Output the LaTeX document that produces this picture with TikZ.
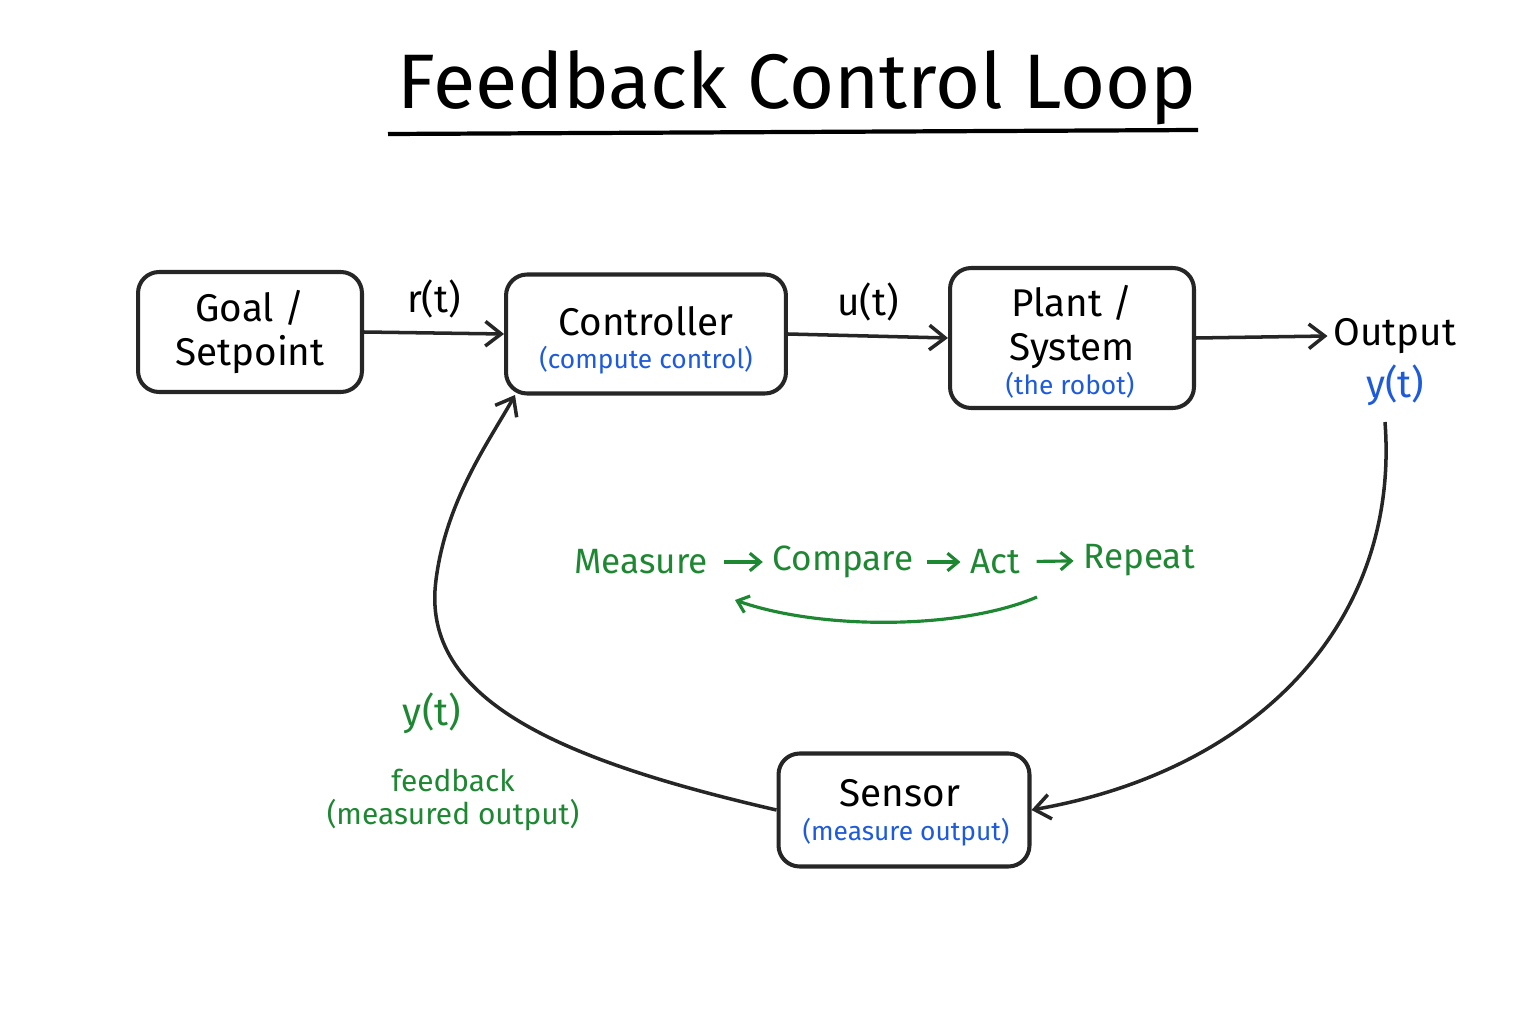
\documentclass[tikz,border=0pt]{standalone}
\usepackage{fontspec}
\setmainfont{Fira Sans}
\usetikzlibrary{arrows.meta}
\definecolor{bl}{RGB}{30,90,220}
\definecolor{gr}{RGB}{30,135,50}
\begin{document}
\begin{tikzpicture}[x=0.02cm,y=-0.02cm,
  box/.style={draw=black!85,line width=2.3pt,rounded corners=12pt,inner sep=0pt},
  arr/.style={-{Straight Barb[length=9pt,width=14pt,line width=2pt]},line width=2pt,draw=black!85},
  garr/.style={-{Straight Barb[length=6pt,width=10pt,line width=1.8pt]},line width=1.8pt,draw=gr},
  lbl/.style={font=\fontsize{22}{25}\selectfont},
  sub/.style={font=\fontsize{15}{17}\selectfont,text=bl},
  grn/.style={font=\fontsize{20}{22}\selectfont,text=gr}]
\useasboundingbox (0,0) rectangle (1536,1024);
\node[font=\fontsize{44}{48}\selectfont] (title) at (797,88) {Feedback Control Loop};
\draw[line width=2.4pt] (388,134) -- (1198,130);
\node[box,minimum width=4.48cm,minimum height=2.4cm] (g) at (250,332) {};
\node[lbl,align=center] at (250,332) {Goal /\\Setpoint};
\node[box,minimum width=5.6cm,minimum height=2.38cm] (c) at (646,334) {};
\node[lbl] at (646,321) {Controller};
\node[sub] at (646,360) {(compute control)};
\node[box,minimum width=4.88cm,minimum height=2.8cm] (p) at (1072,338) {};
\node[lbl,align=center] at (1072,327) {Plant /\\System};
\node[sub] at (1070,385) {(the robot)};
\node[box,minimum width=5.02cm,minimum height=2.26cm] (s) at (904,810) {};
\node[lbl] at (900,793) {Sensor};
\node[sub] at (906,832) {(measure output)};
\node[lbl] (out) at (1395,336) {Output};
\node[lbl,text=bl] (yo) at (1395,385) {y(t)};
\coordinate (oe) at (1385,422);
\draw[arr] (g.east) -- (c.west) node[midway,above=4pt,lbl] {r(t)};
\draw[arr] (c.east) -- (p.west) node[midway,above=4pt,lbl] {u(t)};
\draw[arr] (p.east) -- (out.west);
\draw[arr] (oe) .. controls (1400,620) and (1260,770) .. (s.east);
\draw[arr] (s.west) .. controls (560,760) and (420,700) .. (436,580) .. controls (446,500) and (490,440) .. (515,395);
\node[grn] (m) at (641,562) {Measure};
\node[grn] (cp) at (843,562) {Compare};
\node[grn] (a) at (995,562) {Act};
\node[grn] (r) at (1139,560) {Repeat};
\draw[garr,shorten <=6pt,shorten >=2pt] (m) -- (cp);
\draw[garr,shorten <=4pt,shorten >=2pt] (cp) -- (a);
\draw[garr,shorten <=6pt,shorten >=2pt] (a) -- (r);
\coordinate (g1) at (1037,597);
\coordinate (g2) at (735,600);
\draw[garr] (g1) .. controls (960,630) and (820,630) .. (g2);
\node[grn,font=\fontsize{22}{24}\selectfont] (yf) at (432,713) {y(t)};
\node[grn,font=\fontsize{17}{19}\selectfont,align=center] (fb) at (453,800) {feedback\\(measured output)};
\end{tikzpicture}
\end{document}
